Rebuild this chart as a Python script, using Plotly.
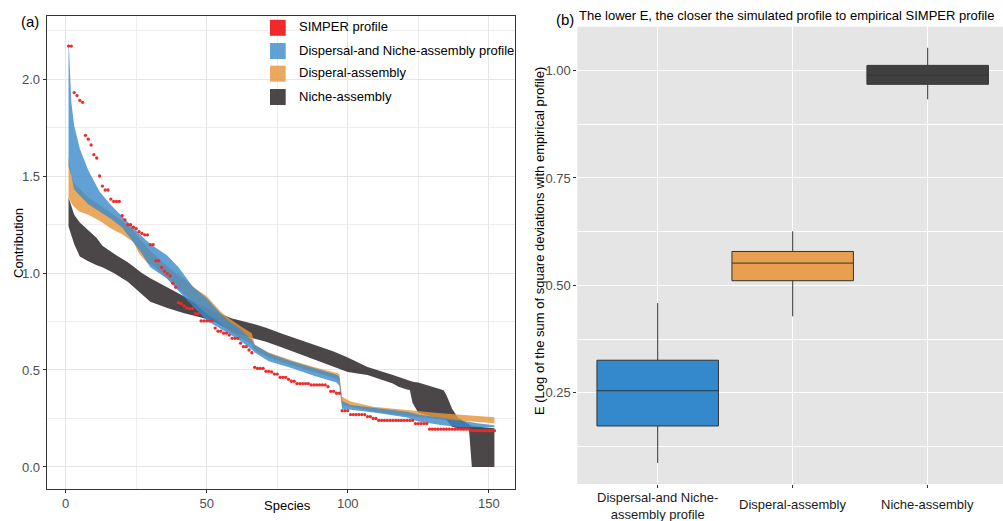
import plotly.graph_objects as go

W, H = 1003, 521
FONT = "Liberation Sans, Arial, Helvetica, sans-serif"

# ---------------- Panel (a) data ----------------
species = list(range(1, 153))
simper = [
    2.17, 2.17, 1.93, 1.915, 1.89, 1.88, 1.71, 1.69, 1.66, 1.61,
    1.593, 1.50, 1.448, 1.428, 1.428, 1.381, 1.369, 1.369, 1.369, 1.296,
    1.274, 1.249, 1.249, 1.236, 1.229, 1.213, 1.204, 1.197, 1.197, 1.146,
    1.146, 1.063, 1.063, 1.029, 1.009, 0.997, 0.985, 0.947, 0.926, 0.847,
    0.842, 0.830, 0.820, 0.816, 0.816, 0.790, 0.790, 0.753, 0.753, 0.753,
    0.753, 0.753, 0.716, 0.700, 0.700, 0.690, 0.690, 0.680, 0.663, 0.663,
    0.663, 0.638, 0.620, 0.620, 0.603, 0.589, 0.514, 0.508, 0.508, 0.508,
    0.493, 0.493, 0.490, 0.479, 0.479, 0.462, 0.462, 0.462, 0.452, 0.442,
    0.442, 0.430, 0.430, 0.430, 0.430, 0.430, 0.423, 0.423, 0.423, 0.423,
    0.423, 0.423, 0.414, 0.390, 0.390, 0.380, 0.380, 0.290, 0.290, 0.290,
    0.270, 0.270, 0.270, 0.270, 0.270, 0.270, 0.260, 0.260, 0.250, 0.250,
    0.240, 0.240, 0.240, 0.240, 0.240, 0.240, 0.240, 0.240, 0.240, 0.240,
    0.240, 0.240, 0.240, 0.224, 0.224, 0.224, 0.224, 0.224, 0.195, 0.195,
    0.195, 0.195, 0.195, 0.195, 0.195, 0.195, 0.195, 0.195, 0.195, 0.195,
    0.195, 0.195, 0.195, 0.187, 0.187, 0.187, 0.187, 0.187, 0.187, 0.187,
    0.187, 0.187,
]

# Dispersal-and Niche-assembly profile ribbon
blue_x = [1, 2, 3, 5, 8, 12, 16, 20, 24, 27, 30, 33, 36, 40, 45, 50, 55, 58, 62, 66,
          67, 72, 80, 88, 96, 97, 98, 101, 110, 121, 125, 133, 140, 146, 152]
blue_hi = [2.21, 1.88, 1.76, 1.64, 1.53, 1.42, 1.35, 1.29, 1.23, 1.19, 1.15, 1.12, 1.09, 1.03, 0.93, 0.87, 0.79, 0.75, 0.71, 0.655,
           0.63, 0.586, 0.545, 0.51, 0.475, 0.465, 0.34, 0.32, 0.305, 0.285, 0.27, 0.256, 0.24, 0.225, 0.215]
blue_lo = [1.55, 1.50, 1.43, 1.40, 1.355, 1.316, 1.28, 1.235, 1.16, 1.10, 1.03, 1.00, 0.97, 0.905, 0.83, 0.755, 0.71, 0.685, 0.65, 0.605,
           0.59, 0.545, 0.51, 0.47, 0.435, 0.42, 0.30, 0.295, 0.28, 0.255, 0.234, 0.216, 0.205, 0.205, 0.205]

# Disperal-assembly ribbon
orange_x = [1, 2, 3, 5, 8, 12, 16, 20, 24, 26, 29, 31, 34, 38, 42, 46, 50, 55, 58, 62, 65,
            66, 67, 72, 80, 88, 96, 97, 98, 101, 109, 121, 133, 152]
orange_hi = [1.60, 1.50, 1.46, 1.43, 1.39, 1.35, 1.31, 1.27, 1.22, 1.18, 1.13, 1.10, 1.06, 1.01, 0.97, 0.92, 0.88, 0.80, 0.765, 0.725, 0.70,
             0.69, 0.63, 0.59, 0.55, 0.515, 0.485, 0.48, 0.362, 0.337, 0.311, 0.294, 0.277, 0.256]
orange_lo = [1.39, 1.36, 1.34, 1.316, 1.30, 1.27, 1.23, 1.20, 1.16, 1.10, 1.05, 1.04, 1.00, 0.94, 0.89, 0.84, 0.79, 0.74, 0.70, 0.665, 0.64,
             0.63, 0.60, 0.565, 0.525, 0.49, 0.455, 0.44, 0.32, 0.31, 0.285, 0.263, 0.246, 0.225]

# Niche-assembly ribbon
dark_x = [1, 3, 5, 8, 11, 13, 17, 22, 27, 30, 36, 42, 47, 52, 59, 66, 71, 77, 83, 89, 95, 100, 107,
          116, 118, 121, 122, 123, 125, 130, 134, 135, 137, 139, 143, 144, 152]
dark_hi = [1.39, 1.30, 1.26, 1.22, 1.18, 1.14, 1.10, 1.055, 1.0, 0.973, 0.925, 0.878, 0.84, 0.805, 0.766, 0.74, 0.718, 0.685, 0.655, 0.625, 0.595, 0.565, 0.515,
           0.474, 0.465, 0.448, 0.445, 0.44, 0.435, 0.415, 0.395, 0.37, 0.30, 0.255, 0.216, 0.21, 0.20]
dark_lo = [1.24, 1.15, 1.085, 1.06, 1.04, 1.03, 1.00, 0.955, 0.89, 0.852, 0.82, 0.792, 0.775, 0.755, 0.697, 0.665, 0.646, 0.615, 0.586, 0.55, 0.517, 0.49, 0.474,
           0.43, 0.414, 0.40, 0.397, 0.33, 0.28, 0.26, 0.245, 0.242, 0.208, 0.20, 0.19, 0.0, 0.0]

# ---------------- Panel (b) data ----------------
box_names = ["Dispersal-and Niche-assembly profile", "Disperal-assembly", "Niche-assembly"]
box_ticktext = ["Dispersal-and Niche-<br>assembly profile", "Disperal-assembly", "Niche-assembly"]
box_label_y = [505.5, 504, 504]  # vertical centre of each category label (px)
box_lower = [0.087, 0.428, 0.933]
box_q1 = [0.173, 0.511, 0.968]
box_median = [0.255, 0.552, 0.989]
box_q3 = [0.326, 0.579, 1.012]
box_upper = [0.459, 0.626, 1.053]
box_fill = ["#3389CC", "#E8A050", "#404040"]

# colours
C_BLUE = "rgba(58,137,203,0.80)"
C_ORANGE = "rgba(230,150,60,0.82)"
C_DARK = "rgba(45,40,41,0.86)"
C_RED = "#F02A2A"


def px_x(p):
    return p / W


def px_y(p):
    return 1 - p / H


fig = go.Figure()


def ribbon(xs, hi, lo, color, name):
    fig.add_trace(go.Scatter(
        x=list(xs) + list(xs)[::-1],
        y=list(hi) + list(lo)[::-1],
        fill="toself", fillcolor=color, mode="lines",
        line=dict(width=0, color=color), name=name, showlegend=False,
        hoverinfo="skip", xaxis="x", yaxis="y"))


ribbon(dark_x, dark_hi, dark_lo, C_DARK, "Niche-assembly")
ribbon(orange_x, orange_hi, orange_lo, C_ORANGE, "Disperal-assembly")
ribbon(blue_x, blue_hi, blue_lo, C_BLUE, "Dispersal-and Niche-assembly profile")

fig.add_trace(go.Scatter(
    x=species, y=simper, mode="markers",
    marker=dict(symbol="circle", size=3.3, color=C_RED, line=dict(width=0)),
    name="SIMPER profile", showlegend=False, xaxis="x", yaxis="y"))

# ---------------- Panel (b) boxes ----------------
for i, nm in enumerate(box_names):
    fig.add_trace(go.Box(
        x=[nm], q1=[box_q1[i]], median=[box_median[i]], q3=[box_q3[i]],
        lowerfence=[box_lower[i]], upperfence=[box_upper[i]],
        fillcolor=box_fill[i], line=dict(color="#333333", width=1),
        whiskerwidth=0, width=0.9, boxpoints=False, showlegend=False,
        xaxis="x2", yaxis="y2", name=nm))

tick_font = dict(family=FONT, size=13, color="#4D4D4D")

fig.update_layout(
    width=W, height=H, autosize=False,
    margin=dict(l=0, r=0, t=0, b=0, autoexpand=False),
    paper_bgcolor="white", plot_bgcolor="white",
    font=dict(family=FONT, color="black"),
    xaxis=dict(
        domain=[46.7 / W, 515 / W], range=[-6.74, 159.3], automargin=False,
        tickvals=[0, 50, 100, 150], ticks="outside", ticklen=3, tickcolor="#333333",
        tickfont=tick_font, showgrid=True, gridcolor="#E6E6E6", gridwidth=1,
        minor=dict(tickvals=[25, 75, 125], showgrid=True, gridcolor="#EDEDED", gridwidth=0.8),
        showline=True, linecolor="#333333", linewidth=1, mirror=True,
        zeroline=False, anchor="y"),
    yaxis=dict(
        domain=[px_y(488.7), px_y(16)], range=[-0.112, 2.325], automargin=False,
        tickvals=[0, 0.5, 1.0, 1.5, 2.0], ticktext=["0.0", "0.5", "1.0", "1.5", "2.0"],
        ticks="outside", ticklen=3, tickcolor="#333333", tickfont=tick_font,
        showgrid=True, gridcolor="#E6E6E6", gridwidth=1,
        minor=dict(tickvals=[0.25, 0.75, 1.25, 1.75, 2.25], showgrid=True, gridcolor="#EDEDED", gridwidth=0.8),
        showline=True, linecolor="#333333", linewidth=1, mirror=True,
        zeroline=False, anchor="x"),
    xaxis2=dict(
        domain=[577.3 / W, 1.0], range=[-0.5956, 2.558], type="category", automargin=False,
        categoryorder="array", categoryarray=box_names,
        tickvals=box_names, ticktext=["", "", ""],
        ticks="outside", ticklen=3, tickcolor="#333333",
        showgrid=True, gridcolor="white", gridwidth=1.1, zeroline=False, showline=False,
        anchor="y2"),
    yaxis2=dict(
        domain=[px_y(484), px_y(26.7)], range=[0.038, 1.102], automargin=False,
        tickvals=[0.25, 0.5, 0.75, 1.0], ticktext=["0.25", "0.50", "0.75", "1.00"],
        ticks="outside", ticklen=3, tickcolor="#333333", tickfont=tick_font,
        showgrid=True, gridcolor="white", gridwidth=1.1,
        minor=dict(tickvals=[0.125, 0.375, 0.625, 0.875], showgrid=True, gridcolor="white", gridwidth=0.55),
        zeroline=False, showline=False, anchor="x2"),
)

# grey background for panel (b)
fig.add_shape(type="rect", xref="x2 domain", yref="y2 domain", x0=0, x1=1, y0=0, y1=1,
              fillcolor="#E5E5E5", line=dict(width=0), layer="below")

# category labels of panel (b), placed on the categorical axis
for nm, lab, cy in zip(box_names, box_ticktext, box_label_y):
    fig.add_annotation(text=lab, xref="x2", yref="paper", x=nm, y=px_y(cy),
                       xanchor="center", yanchor="middle", showarrow=False,
                       font=dict(family=FONT, size=13, color="#1A1A1A"))

# ---------------- manual legend for panel (a) ----------------
leg_labels = ["SIMPER profile", "Dispersal-and Niche-assembly profile", "Disperal-assembly", "Niche-assembly"]
leg_colors = [C_RED, C_BLUE, C_ORANGE, C_DARK]
leg_centres = [27.8, 51.0, 73.7, 97.0]
for lab, col, cy in zip(leg_labels, leg_colors, leg_centres):
    fig.add_shape(type="rect", xref="paper", yref="paper",
                  x0=px_x(270), x1=px_x(285.7), y0=px_y(cy + 8), y1=px_y(cy - 8),
                  fillcolor=col, line=dict(width=0))
    fig.add_annotation(text=lab, xref="paper", yref="paper", x=px_x(296.5), y=px_y(cy - 1),
                       xanchor="left", yanchor="middle", showarrow=False,
                       font=dict(family=FONT, size=13, color="black"))

# ---------------- texts ----------------
ann = [
    dict(text="(a)", x=px_x(19), y=px_y(22), xanchor="left", size=15),
    dict(text="(b)", x=px_x(554), y=px_y(20), xanchor="left", size=15),
    dict(text="The lower E, the closer the simulated profile to empirical SIMPER profile",
         x=px_x(576.5), y=px_y(15.5), xanchor="left", size=13),
    dict(text="Species", x=px_x(287), y=px_y(505.5), xanchor="center", size=13),
]
for a in ann:
    fig.add_annotation(text=a["text"], xref="paper", yref="paper", x=a["x"], y=a["y"],
                       xanchor=a["xanchor"], yanchor="middle", showarrow=False,
                       font=dict(family=FONT, size=a["size"], color="black"))

fig.add_annotation(text="Contribution", xref="paper", yref="paper", x=px_x(18), y=px_y(243),
                   textangle=-90, showarrow=False, xanchor="center", yanchor="middle",
                   font=dict(family=FONT, size=13, color="black"))
fig.add_annotation(text="E (Log of the sum of square deviations with empirical profile)",
                   xref="paper", yref="paper", x=px_x(540), y=px_y(241),
                   textangle=-90, showarrow=False, xanchor="center", yanchor="middle",
                   font=dict(family=FONT, size=13, color="black"))

fig.write_html(
    "out.html",
    config={"displayModeBar": False},
    post_script="document.body.style.margin='0';document.body.style.padding='0';"
                "document.body.style.overflow='hidden';",
)
